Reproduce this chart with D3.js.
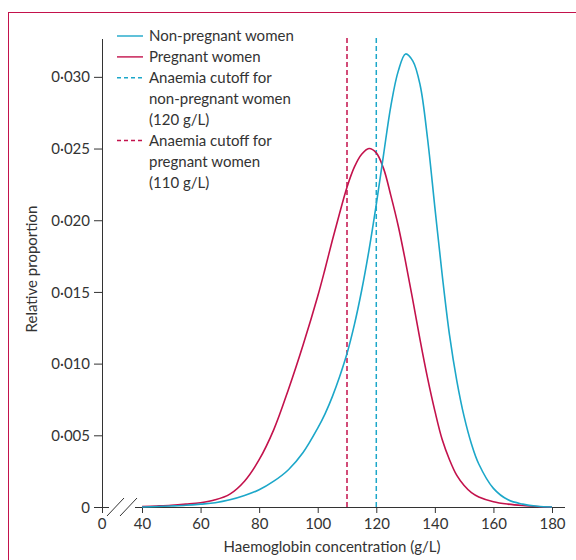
<!DOCTYPE html>
<html>
<head>
<meta charset="utf-8">
<script src="https://cdnjs.cloudflare.com/ajax/libs/d3/7.8.5/d3.min.js"></script>
<style>
    body { margin: 0; background: #fff; }
    svg text { font-family: Lato, "Noto Sans", sans-serif; fill: #333; }
</style>
</head>
<body>
<svg id="chart"></svg>
<script>
// haemoglobin concentration (g/L) and relative proportion for each group
var haemoglobin = [40, 45, 50, 55, 60, 65, 70, 75, 80, 85, 90, 95, 100,
    102.5, 105, 107.5, 110, 112.5, 115, 117.5, 120, 122.5, 125, 127.5, 130,
    132.5, 135, 137.5, 140, 142.5, 145, 147.5, 150, 152.5, 155, 160, 165, 170, 175, 180];
var nonPregnant = [0, 0.00003, 0.00007, 0.00012, 0.0002, 0.0003, 0.0005, 0.0008, 0.0012, 0.0018, 0.0026, 0.0038, 0.0055,
    0.0065, 0.0077, 0.0091, 0.0107, 0.0127, 0.0151, 0.0179, 0.0211, 0.0246, 0.0280, 0.0304, 0.0316,
    0.0311, 0.0294, 0.0257, 0.0209, 0.0162, 0.0120, 0.0088, 0.0063, 0.0044, 0.0030, 0.0013, 0.0005, 0.0002, 0.00005, 0];
var pregnant = [0.00003, 0.00007, 0.00012, 0.0002, 0.0003, 0.0005, 0.0009, 0.0018, 0.0033, 0.0054, 0.0082, 0.0113, 0.0147,
    0.0166, 0.0186, 0.0205, 0.0223, 0.0237, 0.0246, 0.0250, 0.0247, 0.0236, 0.0217, 0.0196, 0.0171,
    0.0144, 0.0116, 0.0090, 0.0067, 0.0047, 0.0033, 0.0022, 0.0015, 0.0010, 0.0007, 0.00037, 0.0002, 0.0001, 0.00004, 0];

var xTicks = [40, 60, 80, 100, 120, 140, 160, 180];
var yTicks = [0, 0.005, 0.010, 0.015, 0.020, 0.025, 0.030];
var cutoffPregnant = 110;
var cutoffNonPregnant = 120;

var legendLabels = [
    ["Non-pregnant women"],
    ["Pregnant women"],
    ["Anaemia cutoff for", "non-pregnant women", "(120 g/L)"],
    ["Anaemia cutoff for", "pregnant women", "(110 g/L)"]
];

var blue = "#1ca7c9";
var crimson = "#c3124c";
var ink = "#333";

var svg = d3.select("#chart")
    .attr("width", 576)
    .attr("height", 560);

// frame round the figure, open to the right and bottom
svg.append("rect")
    .attr("x", 8.5).attr("y", 12.5)
    .attr("width", 620).attr("height", 620)
    .attr("fill", "none")
    .attr("stroke", crimson)
    .attr("stroke-width", 1);

var axisX0 = 102; // position of the y axis (value 0 on the broken x axis)

var xScale = d3.scaleLinear()
    .domain([40, 180])
    .range([142, 552]);

var yScale = d3.scaleLinear()
    .domain([0, 0.03264])
    .range([507, 39]);

var fmt = function (d) { return d === 0 ? "0" : d3.format(".3f")(d).replace(".", "\u00b7"); };

// y axis
var gy = svg.append("g")
    .attr("transform", "translate(" + axisX0 + ",0)")
    .call(d3.axisLeft(yScale).tickValues(yTicks).tickSize(8).tickSizeOuter(0).tickPadding(4).tickFormat(fmt));
gy.select(".domain").remove();
gy.selectAll("line").attr("stroke", ink);
gy.selectAll("text").attr("font-size", "15px").attr("fill", ink).attr("dy", "0.34em");

svg.append("line")
    .attr("x1", axisX0 + 0.5).attr("x2", axisX0 + 0.5)
    .attr("y1", yScale.range()[1]).attr("y2", 513)
    .attr("stroke", ink);

// x axis
var gx = svg.append("g")
    .attr("transform", "translate(0," + yScale(0) + ")")
    .call(d3.axisBottom(xScale).tickValues(xTicks).tickSize(6).tickSizeOuter(0).tickPadding(5));
gx.select(".domain").remove();
gx.selectAll("line").attr("stroke", ink);
gx.selectAll("text").attr("font-size", "15px").attr("fill", ink);

svg.append("line")
    .attr("x1", axisX0).attr("x2", 109)
    .attr("y1", yScale(0) + 0.5).attr("y2", yScale(0) + 0.5)
    .attr("stroke", ink);
svg.append("line")
    .attr("x1", 135).attr("x2", 565)
    .attr("y1", yScale(0) + 0.5).attr("y2", yScale(0) + 0.5)
    .attr("stroke", ink);

// axis break marks
[0, 13].forEach(function (dx) {
    svg.append("line")
        .attr("x1", 107 + dx).attr("y1", 516)
        .attr("x2", 124 + dx).attr("y2", 498)
        .attr("stroke", ink);
});

svg.append("text")
    .text("0")
    .attr("x", axisX0)
    .attr("y", yScale(0) + 11)
    .attr("dy", "0.71em")
    .attr("text-anchor", "middle")
    .attr("font-size", "15px");

// axis titles
svg.append("text")
    .text("Haemoglobin concentration (g/L)")
    .attr("x", 332)
    .attr("y", 552)
    .attr("text-anchor", "middle")
    .attr("font-size", "15px");

svg.append("text")
    .text("Relative proportion")
    .attr("transform", "translate(37,269) rotate(-90)")
    .attr("text-anchor", "middle")
    .attr("font-size", "15px");

// cutoff lines
[[cutoffPregnant, crimson], [cutoffNonPregnant, blue]].forEach(function (c) {
    svg.append("line")
        .attr("x1", xScale(c[0])).attr("x2", xScale(c[0]))
        .attr("y1", 38).attr("y2", yScale(0))
        .attr("stroke", c[1])
        .attr("stroke-width", 1.5)
        .attr("stroke-dasharray", "5,3");
});

// distribution curves
var line = d3.line()
    .x(function (d, i) { return xScale(haemoglobin[i]); })
    .y(function (d) { return yScale(d); })
    .curve(d3.curveCatmullRom.alpha(0.5));

svg.append("path")
    .datum(pregnant)
    .attr("d", line)
    .attr("fill", "none")
    .attr("stroke", crimson)
    .attr("stroke-width", 1.6);

svg.append("path")
    .datum(nonPregnant)
    .attr("d", line)
    .attr("fill", "none")
    .attr("stroke", blue)
    .attr("stroke-width", 1.6);

// legend
var legendColors = [blue, crimson, blue, crimson];
var legendDashed = [false, false, true, true];
var rowHeight = 20.9;
var row = 0;
legendLabels.forEach(function (lines, i) {
    var cy = 36 + row * rowHeight;
    svg.append("line")
        .attr("x1", 117).attr("x2", 143)
        .attr("y1", cy).attr("y2", cy)
        .attr("stroke", legendColors[i])
        .attr("stroke-width", 1.4)
        .attr("stroke-dasharray", legendDashed[i] ? "4,3" : null);
    lines.forEach(function (t, j) {
        svg.append("text")
            .text(t)
            .attr("x", 149)
            .attr("y", cy + j * rowHeight)
            .attr("dy", "0.35em")
            .attr("font-size", "15px");
    });
    row += lines.length;
});
</script>
</body>
</html>
